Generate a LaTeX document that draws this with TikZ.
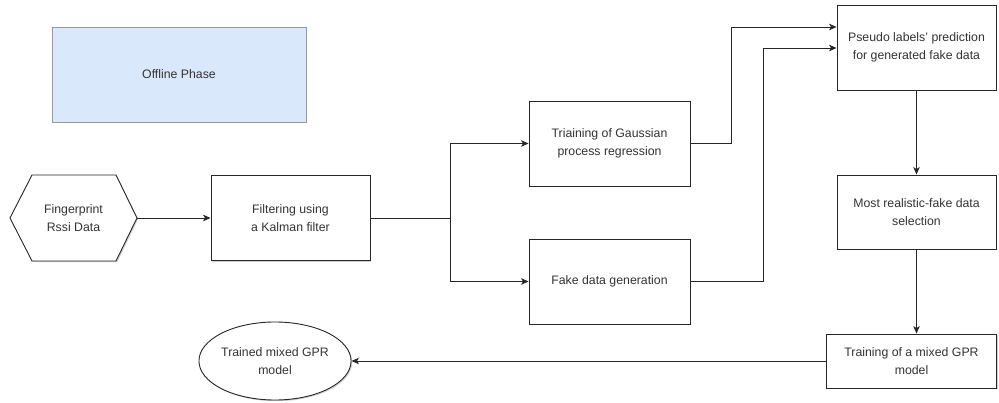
\documentclass[tikz,border=0pt]{standalone}
\usepackage{fontspec}
\setmainfont{Liberation Sans}
\usetikzlibrary{shapes.geometric,arrows.meta,shadows}
\definecolor{phasefill}{HTML}{DAE8FC}
\begin{document}
\begin{tikzpicture}[x=1pt,y=-1pt,
  every node/.style={font=\fontsize{12.3}{18.5}\selectfont, text=black!80, align=center},
  shadowed/.style={drop shadow={shadow xshift=1.2pt, shadow yshift=-1.2pt, fill=black, opacity=0.18}},
  box/.style={draw=black!85, line width=0.9pt, fill=white, minimum width=#1, inner sep=0pt, shadowed},
  box/.default=160pt,
  conn/.style={draw=black!85, line width=0.9pt, -{Stealth[length=7.5pt,width=6.5pt,inset=2pt]}},
  ]
\useasboundingbox (0,0) rectangle (999,403);
\node[draw=black!40, fill=phasefill, line width=0.8pt, minimum width=254pt, minimum height=95pt, inner sep=0pt] (offline) at (179,74.5) {Offline Phase};
\path[draw=black!85, line width=0.9pt, fill=white, shadowed] (10,218) -- (32,175) -- (116,175) -- (137,218) -- (116,261) -- (32,261) -- cycle;
\node (hext) at (73.5,218) {Fingerprint\\Rssi Data};
\coordinate (hexr) at (137,218);
\node[box=159pt, minimum height=85pt] (filt) at (290.5,218) {Filtering using\\a Kalman filter};
\node[box=161pt, minimum height=85pt] (gpr) at (609.5,143.5) {Triaining of Gaussian\\process regression};
\node[box=161pt, minimum height=85pt] (fake) at (609.5,281.5) {Fake data generation};
\node[box=159pt, minimum height=85pt] (pseudo) at (916.5,47.5) {Pseudo labels' prediction\\for generated fake data};
\node[box=159pt, minimum height=74pt] (most) at (916.5,212) {Most realistic-fake data\\selection};
\node[box=170pt, minimum height=54pt] (mixed) at (911.5,361) {Training of a mixed GPR\\model};
\node[ellipse, draw=black!85, line width=0.9pt, fill=white, minimum width=130pt, minimum height=78pt, inner sep=0pt, shadowed] (out) at (275,361) {Trained mixed GPR\\model};
\coordinate (split) at (450,218);
\draw[conn] (hexr) -- (filt.west);
\draw[draw=black!85, line width=0.9pt] (filt.east) -- (split);
\draw[conn] (split) |- (gpr.west);
\draw[conn] (split) |- (fake.west);
\draw[conn] (gpr.east) -- (731,143.5) |- ([yshift=20.5pt]pseudo.west);
\draw[conn] (fake.east) -- (763,281.5) |- ([yshift=-0.5pt]pseudo.west);
\draw[conn] (pseudo.south) -- (most.north);
\draw[conn] (most.south) -- (most.south |- mixed.north);
\draw[conn] (mixed.west) -- (out.east);
\end{tikzpicture}
\end{document}
